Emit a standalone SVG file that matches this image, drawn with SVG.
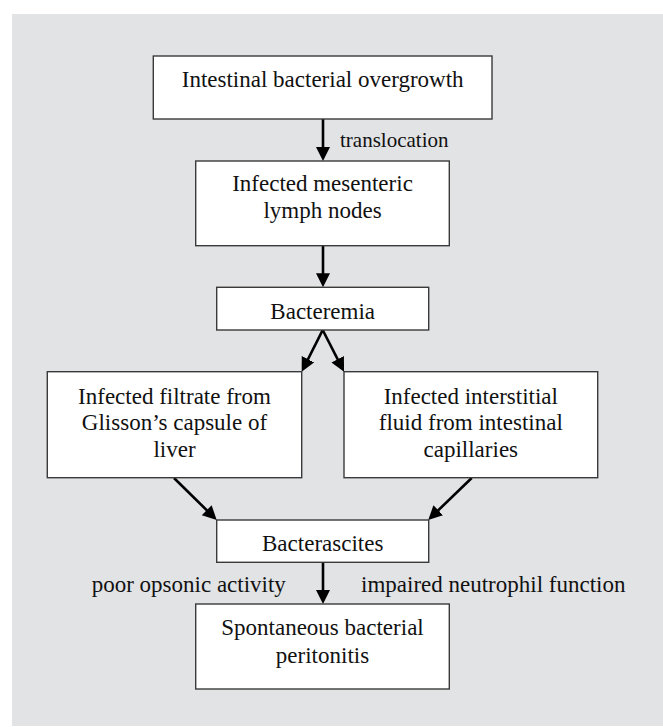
<svg xmlns="http://www.w3.org/2000/svg" width="663" height="727" viewBox="0 0 663 727">
<defs>
<style>
.box{fill:#ffffff;stroke:#3a3a3a;stroke-width:1.4}
.t{font-family:"Liberation Serif","Times New Roman",serif;font-size:23px;fill:#111;text-anchor:middle}
.lbl{font-family:"Liberation Serif","Times New Roman",serif;font-size:23px;fill:#111}
.c{stroke:#000;stroke-width:2.6;fill:none;marker-end:url(#ah)}
</style>
<marker id="ah" markerUnits="userSpaceOnUse" markerWidth="16" markerHeight="16" refX="6" refY="7" orient="auto">
<path d="M0,0 L14,7 L0,14 z" fill="#000"/>
</marker>
</defs>
<rect x="0" y="0" width="663" height="727" fill="#ffffff"/>
<rect x="12" y="14" width="651" height="712" fill="#e2e3e5"/>

<g id="connectors">
<line class="c" x1="323" y1="119" x2="323" y2="153"/>
<line class="c" x1="323" y1="246" x2="323" y2="279.3"/>
<line class="c" x1="322.7" y1="330" x2="305.3" y2="364.6"/>
<line class="c" x1="322.7" y1="330" x2="340.4" y2="364.6"/>
<line class="c" x1="174" y1="478" x2="211" y2="514.4"/>
<line class="c" x1="471.7" y1="478" x2="434" y2="514.4"/>
<line class="c" x1="323" y1="562.3" x2="323" y2="596"/>
<text class="lbl" x="340" y="146.7" style="font-size:21px">translocation</text>
<text class="lbl" x="91.7" y="592">poor opsonic activity</text>
<text class="lbl" x="361" y="592">impaired neutrophil function</text>
</g>

<g id="n1">
<rect class="box" x="153.3" y="56" width="338.7" height="63"/>
<text class="t" x="322.7" y="87">Intestinal bacterial overgrowth</text>
</g>
<g id="n2">
<rect class="box" x="195.7" y="161" width="253.6" height="84.7"/>
<text class="t" x="322.5" y="191">Infected mesenteric</text>
<text class="t" x="322.5" y="218.3">lymph nodes</text>
</g>
<g id="n3">
<rect class="box" x="216.7" y="287.3" width="212" height="42.7"/>
<text class="t" x="322.7" y="319">Bacteremia</text>
</g>
<g id="n4">
<rect class="box" x="47.3" y="371.7" width="254.4" height="106"/>
<text class="t" x="174.5" y="403.5">Infected filtrate from</text>
<text class="t" x="174.5" y="430">Glisson’s capsule of</text>
<text class="t" x="174.5" y="456.7">liver</text>
</g>
<g id="n5">
<rect class="box" x="344" y="371.7" width="253.7" height="106"/>
<text class="t" x="470.8" y="403.5">Infected interstitial</text>
<text class="t" x="470.8" y="430">fluid from intestinal</text>
<text class="t" x="470.8" y="456.7">capillaries</text>
</g>
<g id="n6">
<rect class="box" x="216.7" y="520" width="212" height="42.3"/>
<text class="t" x="322.7" y="550.7">Bacterascites</text>
</g>
<g id="n7">
<rect class="box" x="195.7" y="604" width="253.6" height="85"/>
<text class="t" x="322.5" y="635">Spontaneous bacterial</text>
<text class="t" x="322.5" y="662.7">peritonitis</text>
</g>
</svg>
